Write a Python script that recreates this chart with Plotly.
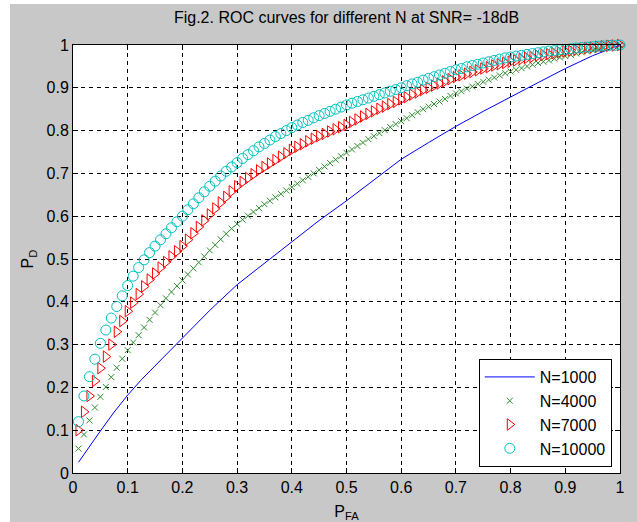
import plotly.graph_objects as go

# ---------------- data ----------------
TITLE = "Fig.2. ROC curves for different N at SNR= -18dB"
SERIES_NAMES = ["N=1000", "N=4000", "N=7000", "N=10000"]

TICK_VALS = [0, 0.1, 0.2, 0.3, 0.4, 0.5, 0.6, 0.7, 0.8, 0.9, 1]
TICK_TEXT = ["0", "0.1", "0.2", "0.3", "0.4", "0.5", "0.6", "0.7", "0.8", "0.9", "1"]

# N=1000 (solid line)
PFA_1000 = [0.01, 0.03, 0.05, 0.075, 0.1, 0.125, 0.15, 0.175, 0.2, 0.25, 0.3, 0.35,
            0.4, 0.45, 0.5, 0.55, 0.6, 0.65, 0.7, 0.75, 0.8, 0.85, 0.9, 0.95, 1.0]
PD_1000 = [0.025, 0.062, 0.098, 0.142, 0.182, 0.218, 0.25, 0.283, 0.315, 0.38, 0.44, 0.49,
           0.54, 0.59, 0.636, 0.685, 0.733, 0.772, 0.81, 0.845, 0.879, 0.912, 0.945, 0.975, 1.0]

# marker series share the same P_FA sample points
PFA_MARK = [0.01, 0.02, 0.03, 0.04, 0.05, 0.06, 0.07, 0.08, 0.09, 0.10,
            0.11, 0.12, 0.13, 0.14, 0.15, 0.16, 0.17, 0.18, 0.19, 0.20,
            0.21, 0.22, 0.23, 0.24, 0.25, 0.26, 0.27, 0.28, 0.29, 0.30,
            0.31, 0.32, 0.33, 0.34, 0.35, 0.36, 0.37, 0.38, 0.39, 0.40,
            0.41, 0.42, 0.43, 0.44, 0.45, 0.46, 0.47, 0.48, 0.49, 0.50,
            0.51, 0.52, 0.53, 0.54, 0.55, 0.56, 0.57, 0.58, 0.59, 0.60,
            0.61, 0.62, 0.63, 0.64, 0.65, 0.66, 0.67, 0.68, 0.69, 0.70,
            0.71, 0.72, 0.73, 0.74, 0.75, 0.76, 0.77, 0.78, 0.79, 0.80,
            0.81, 0.82, 0.83, 0.84, 0.85, 0.86, 0.87, 0.88, 0.89, 0.90,
            0.91, 0.92, 0.93, 0.94, 0.95, 0.96, 0.97, 0.98, 0.99, 1.00]

PD_4000 = [0.057, 0.090, 0.123, 0.153, 0.178, 0.201, 0.224, 0.246, 0.267, 0.287,
           0.305, 0.322, 0.340, 0.358, 0.375, 0.392, 0.408, 0.423, 0.437, 0.450,
           0.464, 0.478, 0.492, 0.506, 0.520, 0.533, 0.546, 0.559, 0.571, 0.582,
           0.592, 0.601, 0.610, 0.619, 0.628, 0.636, 0.644, 0.652, 0.660, 0.668,
           0.676, 0.684, 0.692, 0.700, 0.708, 0.716, 0.724, 0.732, 0.740, 0.748,
           0.756, 0.764, 0.772, 0.780, 0.787, 0.794, 0.801, 0.808, 0.815, 0.822,
           0.829, 0.836, 0.843, 0.850, 0.856, 0.862, 0.868, 0.874, 0.881, 0.887,
           0.892, 0.898, 0.903, 0.909, 0.914, 0.919, 0.924, 0.929, 0.934, 0.938,
           0.942, 0.946, 0.950, 0.954, 0.958, 0.961, 0.964, 0.968, 0.971, 0.974,
           0.977, 0.980, 0.983, 0.985, 0.988, 0.990, 0.993, 0.995, 0.998, 1.000]

PD_7000 = [0.100, 0.143, 0.180, 0.215, 0.245, 0.272, 0.300, 0.330, 0.355, 0.378,
           0.398, 0.418, 0.436, 0.452, 0.466, 0.480, 0.493, 0.506, 0.518, 0.530,
           0.545, 0.560, 0.575, 0.590, 0.604, 0.618, 0.632, 0.645, 0.658, 0.670,
           0.680, 0.689, 0.698, 0.707, 0.715, 0.723, 0.731, 0.739, 0.747, 0.755,
           0.762, 0.768, 0.775, 0.781, 0.787, 0.792, 0.798, 0.803, 0.808, 0.813,
           0.820, 0.826, 0.833, 0.839, 0.845, 0.851, 0.856, 0.862, 0.867, 0.873,
           0.878, 0.884, 0.889, 0.895, 0.900, 0.905, 0.910, 0.915, 0.920, 0.925,
           0.929, 0.933, 0.937, 0.941, 0.945, 0.948, 0.952, 0.955, 0.958, 0.961,
           0.964, 0.967, 0.970, 0.972, 0.975, 0.977, 0.979, 0.981, 0.983, 0.985,
           0.987, 0.989, 0.991, 0.993, 0.994, 0.996, 0.997, 0.998, 0.999, 1.000]

PD_10000 = [0.120, 0.180, 0.225, 0.266, 0.303, 0.334, 0.362, 0.389, 0.414, 0.438,
            0.460, 0.480, 0.498, 0.515, 0.530, 0.545, 0.559, 0.573, 0.587, 0.600,
            0.615, 0.629, 0.643, 0.657, 0.670, 0.682, 0.694, 0.705, 0.715, 0.725,
            0.735, 0.744, 0.753, 0.762, 0.770, 0.778, 0.786, 0.793, 0.800, 0.807,
            0.813, 0.819, 0.824, 0.830, 0.835, 0.840, 0.845, 0.850, 0.855, 0.860,
            0.864, 0.868, 0.872, 0.876, 0.880, 0.884, 0.888, 0.892, 0.896, 0.900,
            0.905, 0.909, 0.913, 0.918, 0.922, 0.926, 0.930, 0.934, 0.938, 0.942,
            0.945, 0.949, 0.952, 0.955, 0.958, 0.961, 0.964, 0.967, 0.970, 0.972,
            0.974, 0.976, 0.978, 0.980, 0.982, 0.984, 0.986, 0.987, 0.989, 0.990,
            0.991, 0.993, 0.994, 0.995, 0.996, 0.997, 0.998, 0.999, 0.999, 1.000]

# ---------------- styling ----------------
FONT = "Arial, 'Liberation Sans', Helvetica, sans-serif"
GRAY = "#c8c8c8"
FS = 16

fig = go.Figure()
fig.add_trace(go.Scatter(x=PFA_1000, y=PD_1000, mode="lines", name=SERIES_NAMES[0],
                         line=dict(color="#0000ff", width=1), cliponaxis=False))
fig.add_trace(go.Scatter(x=PFA_MARK, y=PD_4000, mode="markers", name=SERIES_NAMES[1],
                         marker=dict(symbol="x-thin", size=6, color="#2e8b2e",
                                     line=dict(color="#2e8b2e", width=1)),
                         cliponaxis=False))
fig.add_trace(go.Scatter(x=PFA_MARK, y=PD_7000, mode="markers", name=SERIES_NAMES[2],
                         marker=dict(symbol="triangle-right-open", size=10, color="#ff0000",
                                     line=dict(color="#ff0000", width=1)),
                         cliponaxis=False))
fig.add_trace(go.Scatter(x=PFA_MARK, y=PD_10000, mode="markers", name=SERIES_NAMES[3],
                         marker=dict(symbol="circle-open", size=10, color="#00bfbf",
                                     line=dict(color="#00bfbf", width=1)),
                         cliponaxis=False))

axis_common = dict(
    range=[0, 1], tickvals=TICK_VALS, ticktext=TICK_TEXT,
    showline=True, linecolor="black", linewidth=1, mirror="ticks",
    ticks="inside", ticklen=5, tickcolor="black", tickwidth=1,
    showgrid=True, gridcolor="black", gridwidth=1, griddash="4px,4px",
    zeroline=False, automargin=False,
    tickfont=dict(family=FONT, size=FS, color="black"),
)

fig.update_layout(
    width=637, height=522,
    margin=dict(l=73, r=17, t=45, b=49),
    paper_bgcolor=GRAY, plot_bgcolor="white",
    font=dict(family=FONT, size=FS, color="black"),
    title=dict(text=TITLE, x=0.544, xanchor="center", xref="container",
               y=1 - 17 / 522, yanchor="middle", yref="container",
               font=dict(family=FONT, size=FS, color="black")),
    xaxis=dict(axis_common, title=dict(text="P<sub>FA</sub>", standoff=10,
                                        font=dict(family=FONT, size=FS))),
    yaxis=dict(axis_common, title=dict(text="P<sub>D</sub>", standoff=8,
                                        font=dict(family=FONT, size=FS))),
    legend=dict(x=0.985, y=0.014, xanchor="right", yanchor="bottom",
                bgcolor="white", bordercolor="black", borderwidth=1,
                font=dict(family=FONT, size=FS, color="black"),
                itemwidth=50, tracegroupgap=0),
    showlegend=True,
    shapes=[
        dict(type="rect", xref="paper", yref="paper", x0=-0.3, x1=(10 - 73) / 547,
             y0=-0.3, y1=1.3, fillcolor="white", line=dict(width=0), layer="below"),
        dict(type="rect", xref="paper", yref="paper", x0=-0.3, x1=1.3,
             y0=(473 - 4) / 428, y1=1.3, fillcolor="white", line=dict(width=0), layer="below"),
    ],
)

fig.write_html("out.html", config={"displayModeBar": False},
               post_script="document.body.style.margin='0';document.body.style.padding='0';")
